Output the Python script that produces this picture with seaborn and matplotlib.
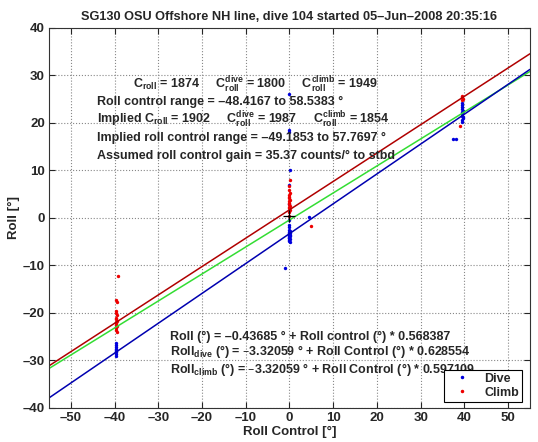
import numpy as np
import pandas as pd
import seaborn as sns
import matplotlib.pyplot as plt
from matplotlib.lines import Line2D

# ---- data ----
dive_rc = [-39.6] * 10 + [-0.2, 0.0, 0.1, -0.1, 0.2, 0.0, -0.2, 0.1, 0.0, -0.1,
                          0.2, 0.0, -0.1, 0.1, 0.0, 0.1, -0.1, 0.0, -0.1, 0.0,
                          0.0, 0.0, 0.1, 0.0, -0.1, 0.0, -1.1, 4.4] + \
          [39.5, 39.4, 39.6, 39.5, 39.4, 39.5, 39.6, 39.5, 39.4, 39.5, 39.5, 39.6, 37.4, 38.2]
dive_roll = [-26.3, -26.8, -27.2, -27.5, -27.8, -28.0, -28.3, -28.6, -29.0, -22.9] + \
            [-2.0, -2.5, -2.8, -3.0, -3.2, -3.4, -3.6, -3.8, -4.0, -4.2,
             -4.4, -4.6, -4.8, -5.0, -3.1, -3.5, -3.9, -4.3, -1.5, -0.5,
             3.0, 7.0, 10.0, 18.5, 18.0, 26.0, -10.5, 0.2] + \
            [20.2, 20.6, 21.0, 21.4, 21.8, 22.2, 22.6, 23.0, 23.4, 23.8, 24.2, 21.2, 16.6, 16.6]

climb_rc = [-39.6, -39.5, -39.7, -39.6, -39.5, -39.6, -39.7, -39.6, -39.5, -39.6,
            -39.6, -39.5, -39.6, -39.5, -39.3, -39.6] + \
           [0.0, 0.1, -0.1, 0.0, 0.1, 0.0, -0.1, 0.0, 0.1, 0.0,
            -0.1, 0.0, 0.1, 0.0, 0.0, 0.1, 0.0, 5.0] + \
           [39.5, 39.6, 39.5, 39.4, 39.0]
climb_roll = [-20.0, -20.5, -21.0, -21.3, -21.6, -21.9, -22.2, -22.5, -22.8, -23.1,
              -23.5, -24.0, -17.2, -17.8, -12.2, -19.5] + \
             [1.2, 1.6, 2.0, 2.3, 2.6, 2.9, 3.2, 3.5, 3.8, 4.1,
              4.4, 4.8, 5.2, 5.9, 6.8, 8.0, 0.5, -1.7] + \
             [24.8, 25.1, 25.4, 25.7, 19.3]

line_x = [-55, 55]
fit_all = (-0.43685, 0.568387)
fit_dive = (-3.32059, 0.628554)
fit_climb = (1.7, 0.597109)

xticks = list(range(-50, 51, 10))
yticks = list(range(-40, 41, 10))

# ---- style ----
sns.set_style('ticks')
plt.rcParams['font.family'] = ['Liberation Sans', 'DejaVu Sans']
plt.rcParams['font.weight'] = 'bold'
plt.rcParams['mathtext.default'] = 'regular'

fig = plt.figure(figsize=(5.38, 4.42), dpi=100)
ax = fig.add_axes([0.091, 0.077, 0.894, 0.860])

lx = np.array(line_x, dtype=float)
for (b, m), col in [(fit_climb, '#b00000'), (fit_all, '#33dd33'), (fit_dive, '#0000b0')]:
    sns.lineplot(x=lx, y=b + m * lx, color=col, lw=1.1, ax=ax)

dive = pd.DataFrame({'rc': dive_rc, 'roll': dive_roll})
climb = pd.DataFrame({'rc': climb_rc, 'roll': climb_roll})
sns.scatterplot(data=dive, x='rc', y='roll', color='#0000dd', s=6, linewidth=0, ax=ax)
sns.scatterplot(data=climb, x='rc', y='roll', color='#ee0000', s=6, linewidth=0, ax=ax)
ax.plot([0], [0.5], marker='+', color='k', ms=8, mew=0.9)

ax.set_xlim(-55, 55)
ax.set_ylim(-40, 40)
ax.set_xticks(xticks)
ax.set_yticks(yticks)
ax.set_xticklabels([str(t).replace('-', '\u2013') for t in xticks], fontsize=9.5, fontweight='bold')
ax.set_yticklabels([str(t).replace('-', '\u2013') for t in yticks], fontsize=9.5, fontweight='bold')
ax.tick_params(direction='in', top=True, right=True, length=4, width=0.8, pad=3)
ax.grid(True, ls=':', color='#888888', lw=0.8)
for s in ax.spines.values():
    s.set_linewidth(0.8)
    s.set_color('#333333')

ax.set_xlabel('Roll Control [°]', fontsize=9.5, fontweight='bold', labelpad=1)
ax.set_ylabel('Roll [°]', fontsize=9.5, fontweight='bold', labelpad=2)
ax.set_title('SG130 OSU Offshore NH line, dive 104 started 05\u2013Jun\u20132008 20:35:16',
             fontsize=9.2, fontweight='bold', pad=6)

tk = dict(fontsize=9, fontweight='bold', va='center', ha='left')
ax.text(-35.8, 28, r'C$_{roll}$ = 1874     C$^{dive}_{roll}$ = 1800     C$^{climb}_{roll}$ = 1949', **tk)
ax.text(-44, 24.3, 'Roll control range = \u201348.4167 to 58.5383 °', **tk)
ax.text(-44, 20.6, r'Implied C$_{roll}$ = 1902     C$^{dive}_{roll}$ = 1987     C$^{climb}_{roll}$ = 1854', **tk)
ax.text(-44, 16.8, 'Implied roll control range = \u201349.1853 to 57.7697 °', **tk)
ax.text(-44, 13.0, 'Assumed roll control gain = 35.37 counts/° to stbd', **tk)

ax.text(-27.3, -25.0, 'Roll (°) = \u20130.43685 ° + Roll control (°) * 0.568387', **tk)
ax.text(-27.3, -28.2, 'Roll$_{dive}$ (°) = \u20133.32059 ° + Roll Control (°) * 0.628554', **tk)
ax.text(-27.3, -32.0, 'Roll$_{climb}$ (°) = \u20133.32059 ° + Roll Control (°) * 0.597109', **tk)

handles = [Line2D([], [], ls='none', marker='.', ms=3, color='#0000dd'),
           Line2D([], [], ls='none', marker='.', ms=3, color='#ee0000')]
leg = ax.legend(handles, ['Dive', 'Climb'], loc='lower right', bbox_to_anchor=(0.997, 0.0),
                prop={'size': 9, 'weight': 'bold'}, frameon=True, fancybox=False,
                framealpha=1, edgecolor='k', handlelength=2.4, handletextpad=0.6,
                borderpad=0.25, labelspacing=0.15)
leg.get_frame().set_linewidth(0.8)
leg.set_zorder(10)

fig.savefig('out.png', dpi=100)
